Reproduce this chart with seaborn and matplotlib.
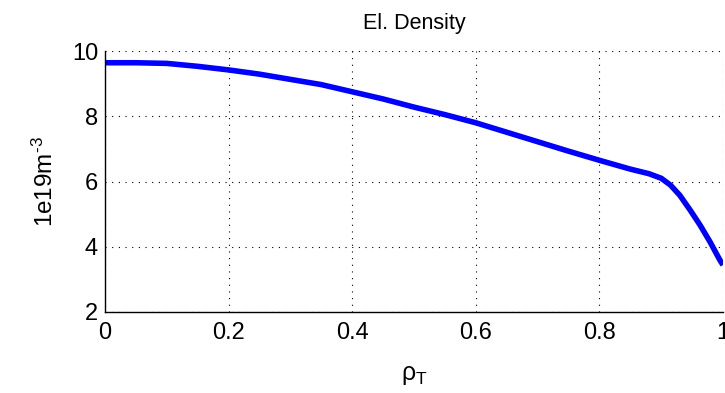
import matplotlib
matplotlib.use("Agg")
import matplotlib.pyplot as plt
import seaborn as sns
import pandas as pd

# Data
rho = [0.0, 0.05, 0.10, 0.15, 0.20, 0.25, 0.30, 0.35, 0.40, 0.45, 0.50, 0.55,
       0.60, 0.65, 0.70, 0.75, 0.80, 0.85, 0.88, 0.90, 0.915, 0.93, 0.947,
       0.963, 0.979, 0.995, 1.0]
density = [9.64, 9.64, 9.62, 9.53, 9.42, 9.29, 9.13, 8.97, 8.75, 8.53, 8.28, 8.05,
           7.80, 7.51, 7.22, 6.93, 6.65, 6.38, 6.24, 6.10, 5.89, 5.58, 5.12,
           4.66, 4.15, 3.59, 3.44]
xticks = [0, 0.2, 0.4, 0.6, 0.8, 1]
xticklabels = ["0", "0.2", "0.4", "0.6", "0.8", "1"]
yticks = [2, 4, 6, 8, 10]
title = "El. Density"
ylabel = "1e19m$^{\\text{-}3}$"
xlabel = "ρ$_\\mathrm{T}$"

sns.set_theme(style="white")
plt.rcParams["font.family"] = ["Liberation Sans", "DejaVu Sans"]
plt.rcParams["mathtext.fontset"] = "custom"
plt.rcParams["mathtext.rm"] = "Liberation Sans"
plt.rcParams["mathtext.it"] = "Liberation Sans"
plt.rcParams["mathtext.bf"] = "Liberation Sans:bold"

df = pd.DataFrame({"rho": rho, "ne": density})

fig = plt.figure(figsize=(7.25, 3.93), dpi=100)
ax = fig.add_axes([105/725, 1 - 312/393, 618/725, 261/393])
sns.lineplot(data=df, x="rho", y="ne", ax=ax, color=(0, 0, 1), lw=4.0,
             solid_capstyle="butt")

ax.set_xlim(0, 1)
ax.set_ylim(2, 10)
ax.set_xticks(xticks)
ax.set_xticklabels(xticklabels)
ax.set_yticks(yticks)
ax.grid(True, color="black", linestyle=(0, (1, 5)), linewidth=0.8)
ax.tick_params(axis="both", direction="in", length=4, width=0.8, colors="black",
               labelsize=17)
ax.tick_params(axis="x", pad=7)
ax.tick_params(axis="y", pad=5)
for s in ["top", "right"]:
    ax.spines[s].set_visible(False)
for s in ["left", "bottom"]:
    ax.spines[s].set_color("black")
    ax.spines[s].set_linewidth(1.0)

ax.set_title(title, fontsize=15.5, color="black", pad=16)
ax.set_xlabel(xlabel, fontsize=18, color="black", labelpad=14)
ax.set_ylabel(ylabel, fontsize=17.5, color="black", labelpad=10)

fig.savefig("out.png", dpi=100, facecolor="white")
